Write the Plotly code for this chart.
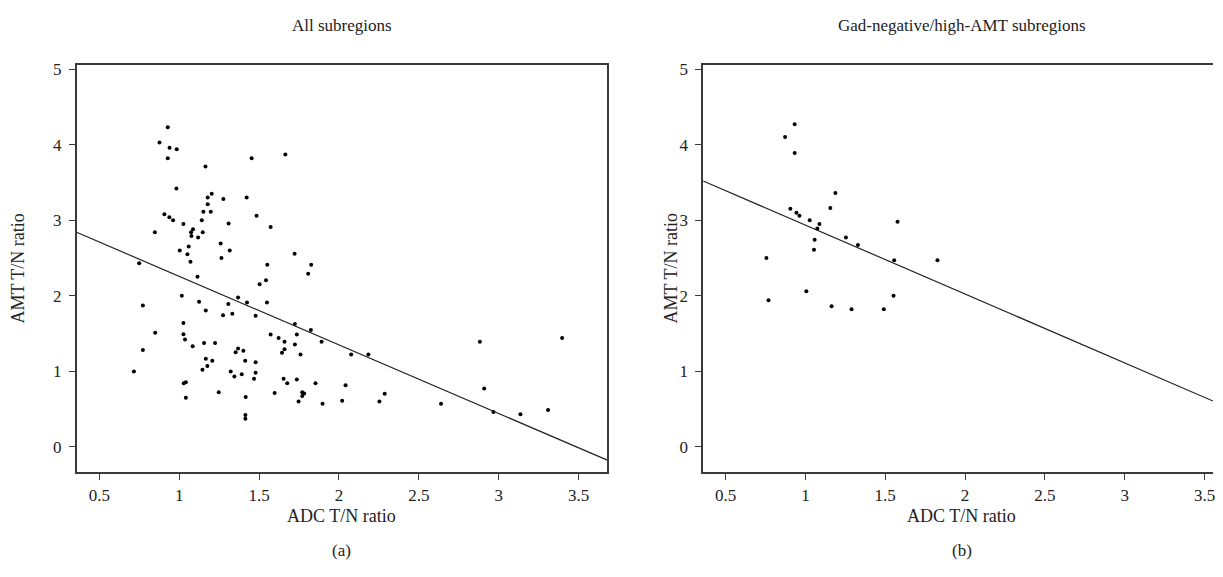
import numpy as np
import plotly.graph_objects as go

# ---- Data: panel (a) All subregions ----
adc_all = [0.928, 0.876, 0.939, 0.984, 0.928, 1.453, 1.164, 0.982, 1.203, 1.178, 1.276, 1.422, 1.178, 1.484,
           0.907, 0.938, 0.961, 1.151, 1.197, 1.141, 1.026, 1.309, 1.086, 1.074, 1.147, 0.847, 1.076, 1.118,
           1.003, 1.059, 1.051, 1.07, 1.259, 1.316, 1.264, 0.749, 1.114,
           1.664, 1.572, 1.722, 1.551, 1.826, 1.807, 1.543,
           1.503, 1.424, 1.549, 1.478, 1.724, 1.572, 1.736, 1.824, 1.622, 1.659, 1.724, 1.891, 1.659, 1.643,
           1.759, 2.076, 2.184, 1.401, 1.413, 1.478, 1.391, 1.478, 1.468, 1.653, 1.736, 1.676, 1.853, 2.041,
           1.597, 1.77, 1.782, 1.77, 1.747, 1.897, 2.02, 2.253, 2.286, 1.416, 1.414, 1.414,
           1.016, 1.368, 0.772, 1.124, 1.307, 1.166, 1.274, 1.332, 1.026, 0.849, 1.026, 1.036, 1.084, 1.155,
           1.224, 1.368, 1.353, 0.772, 1.166, 1.207, 1.176, 1.145, 0.716, 1.322, 1.345, 1.028, 1.041, 1.247, 1.041,
           2.882, 3.397, 2.909, 2.639, 2.967, 3.136, 3.309]
amt_all = [4.23, 4.03, 3.96, 3.94, 3.82, 3.82, 3.71, 3.42, 3.35, 3.30, 3.28, 3.30, 3.21, 3.06,
           3.08, 3.04, 3.00, 3.11, 3.11, 3.00, 2.95, 2.955, 2.88, 2.84, 2.84, 2.84, 2.79, 2.77,
           2.60, 2.65, 2.55, 2.45, 2.69, 2.60, 2.50, 2.43, 2.25,
           3.87, 2.91, 2.555, 2.41, 2.41, 2.29, 2.205,
           2.15, 1.91, 1.91, 1.735, 1.626, 1.485, 1.485, 1.547, 1.44, 1.39, 1.354, 1.39, 1.29, 1.245,
           1.22, 1.22, 1.22, 1.27, 1.14, 1.12, 0.96, 0.98, 0.90, 0.90, 0.89, 0.84, 0.84, 0.815,
           0.71, 0.72, 0.705, 0.67, 0.60, 0.57, 0.61, 0.60, 0.70, 0.66, 0.42, 0.37,
           2.0, 1.976, 1.87, 1.92, 1.89, 1.805, 1.74, 1.76, 1.64, 1.51, 1.49, 1.42, 1.33, 1.375,
           1.375, 1.30, 1.25, 1.28, 1.165, 1.14, 1.07, 1.02, 0.995, 0.995, 0.93, 0.84, 0.854, 0.72, 0.65,
           1.39, 1.44, 0.77, 0.57, 0.46, 0.43, 0.485]
fit_all = {"slope": -0.908, "intercept": 3.164}

# ---- Data: panel (b) Gad-negative/high-AMT subregions ----
adc_gad = [0.933, 0.873, 0.933, 1.188, 1.156, 0.906, 0.944, 0.963, 1.027, 1.088, 1.075, 1.577, 1.254,
           1.329, 1.058, 1.054, 0.756, 1.556, 1.827, 1.006, 0.769, 1.552, 1.164, 1.289, 1.491]
amt_gad = [4.27, 4.10, 3.89, 3.36, 3.16, 3.15, 3.10, 3.06, 3.00, 2.95, 2.89, 2.98, 2.77,
           2.67, 2.74, 2.61, 2.50, 2.47, 2.47, 2.06, 1.94, 2.00, 1.86, 1.82, 1.82]
fit_gad = {"slope": -0.913, "intercept": 3.848}

x_ticks = [0.5, 1, 1.5, 2, 2.5, 3, 3.5]
x_ticktext = ["0.5", "1", "1.5", "2", "2.5", "3", "3.5"]
y_ticks = [0, 1, 2, 3, 4, 5]
titles = ["All subregions", "Gad-negative/high-AMT subregions"]
panel_labels = ["(a)", "(b)"]
x_title = "ADC T/N ratio"
y_title = "AMT T/N ratio"

# page is rendered with an 8px body margin; work in page pixels and convert
OFF = 8
W, H = 1207, 561
FONT = "Liberation Serif"
AX_COLOR = "#3a3a3a"
TXT = "#222222"

def px(p):
    return (p - OFF) / W

def py(p):
    return 1 - (p - OFF) / H

xr_a = [0.357, 3.68]
xr_b = [0.36, 3.552]
yr = [-0.34, 5.06]

fig = go.Figure()

fig.add_trace(go.Scatter(x=adc_all, y=amt_all, mode="markers",
                         marker=dict(color="black", size=4), xaxis="x", yaxis="y", showlegend=False))
xa = np.array(xr_a)
fig.add_trace(go.Scatter(x=xa, y=fit_all["intercept"] + fit_all["slope"] * xa, mode="lines",
                         line=dict(color="#222222", width=1.2), xaxis="x", yaxis="y", showlegend=False))

fig.add_trace(go.Scatter(x=adc_gad, y=amt_gad, mode="markers",
                         marker=dict(color="black", size=4), xaxis="x2", yaxis="y2", showlegend=False))
xb = np.array(xr_b)
fig.add_trace(go.Scatter(x=xb, y=fit_gad["intercept"] + fit_gad["slope"] * xb, mode="lines",
                         line=dict(color="#222222", width=1.2), xaxis="x2", yaxis="y2", showlegend=False))

dom_a = [px(76.7), px(608.3)]
dom_b = [px(704.3), 1.0]
dom_y = [py(471.7), py(61)]

def xaxis(dom, rng, anchor, mirror):
    return dict(domain=dom, range=rng, anchor=anchor, tickvals=x_ticks, ticktext=x_ticktext,
                showgrid=False, zeroline=False, showline=True, linecolor=AX_COLOR, linewidth=1.5,
                mirror=mirror, ticks="outside", ticklen=6, tickwidth=1.2, tickcolor=AX_COLOR,
                ticklabelstandoff=0, ticklabeloverflow="allow",
                tickfont=dict(family=FONT, size=17, color=TXT))

def yaxis(rng, anchor, mirror):
    return dict(domain=dom_y, range=rng, anchor=anchor, tickvals=y_ticks,
                showgrid=False, zeroline=False, showline=True, linecolor=AX_COLOR, linewidth=1.5,
                mirror=mirror, ticks="outside", ticklen=6, tickwidth=1.2, tickcolor=AX_COLOR,
                ticklabelstandoff=4, ticklabeloverflow="allow",
                tickfont=dict(family=FONT, size=17, color=TXT))

fig.update_layout(
    width=W, height=H,
    margin=dict(l=0, r=0, t=0, b=0),
    paper_bgcolor="white", plot_bgcolor="white",
    xaxis=xaxis(dom_a, xr_a, "y", True),
    yaxis=yaxis(yr, "x", True),
    xaxis2=xaxis(dom_b, xr_b, "y2", True),
    yaxis2=yaxis(yr, "x2", False),
)

centers = [px(342.5), px(963.5)]
ytitle_x = [px(18), px(672)]
for c, t, p, yx in zip(centers, titles, panel_labels, ytitle_x):
    fig.add_annotation(x=c, y=py(22), xref="paper", yref="paper", text=t, showarrow=False,
                       font=dict(family=FONT, size=17, color=TXT), xanchor="center", yanchor="middle")
    fig.add_annotation(x=c, y=py(516), xref="paper", yref="paper", text=x_title, showarrow=False,
                       font=dict(family=FONT, size=18, color=TXT), xanchor="center", yanchor="middle")
    fig.add_annotation(x=c, y=py(550), xref="paper", yref="paper", text=p, showarrow=False,
                       font=dict(family=FONT, size=17, color=TXT), xanchor="center", yanchor="middle")
    fig.add_annotation(x=yx, y=(dom_y[0] + dom_y[1]) / 2, xref="paper", yref="paper", text=y_title,
                       showarrow=False, textangle=-90,
                       font=dict(family=FONT, size=18, color=TXT), xanchor="center", yanchor="middle")

fig.write_html("out.html")
